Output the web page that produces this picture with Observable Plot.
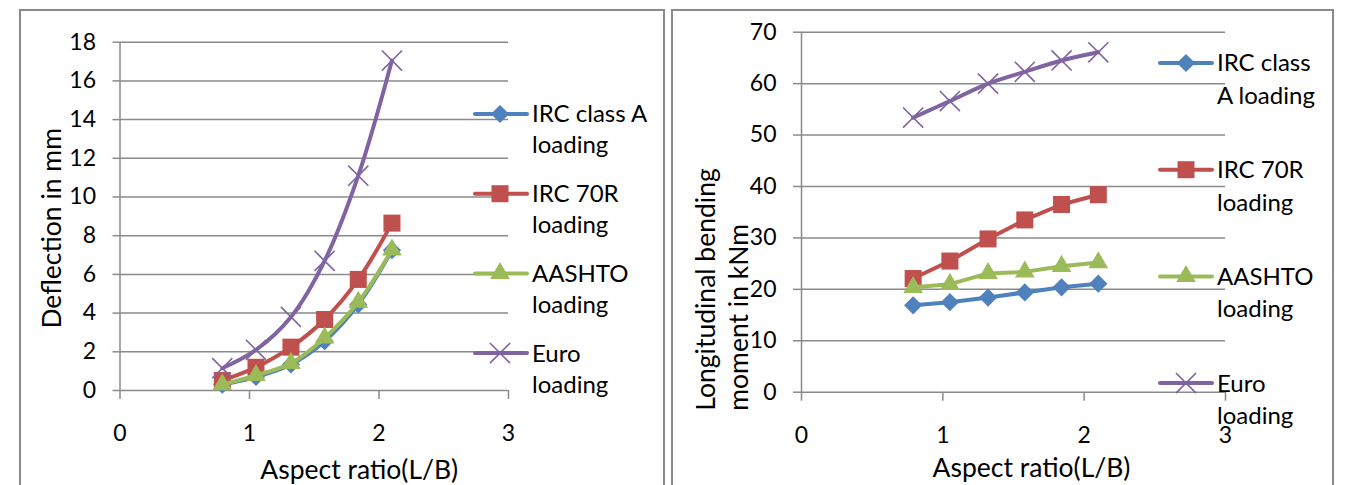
<!DOCTYPE html>
<html><head><meta charset="utf-8">
<script src="https://cdn.jsdelivr.net/npm/d3@7"></script>
<script src="https://cdn.jsdelivr.net/npm/@observablehq/plot@0.6"></script>
<style>
html,body{margin:0;padding:0;background:#fff;}
#root{position:relative;width:1350px;height:485px;overflow:hidden;font-family:Lato,sans-serif;background:#fff;}
.frame{position:absolute;border:2px solid #8a8a8a;border-bottom:none;box-sizing:border-box;}
.panel{position:absolute;top:0;}
.legend{position:absolute;top:0;left:0;}
</style></head><body><div id="root"></div>
<script>
// ---- data ----
const aspectRatio = [0.79, 1.05, 1.32, 1.58, 1.84, 2.1];
const seriesKeys = ["IRC class A", "IRC 70R", "AASHTO", "Euro"];
const seriesColors = ["#4F81BD", "#C0504D", "#9BBB59", "#8064A2"];
// Deflection in mm
const deflIRCA   = [0.30, 0.70, 1.35, 2.55, 4.45, 7.25];
const deflIRC70R = [0.52, 1.20, 2.24, 3.67, 5.74, 8.65];
const deflAASHTO = [0.31, 0.78, 1.41, 2.72, 4.57, 7.27];
const deflEuro   = [1.15, 2.10, 3.80, 6.70, 11.10, 17.05];
// Longitudinal bending moment in kNm
const momIRCA    = [16.9, 17.5, 18.4, 19.4, 20.4, 21.1];
const momIRC70R  = [22.1, 25.5, 29.8, 33.5, 36.5, 38.4];
const momAASHTO  = [20.4, 21.0, 23.1, 23.4, 24.5, 25.2];
const momEuro    = [53.4, 56.6, 60.0, 62.3, 64.5, 66.1];
const xTicks = [0, 1, 2, 3];
const yTicksLeft = [0, 2, 4, 6, 8, 10, 12, 14, 16, 18];
const yTicksRight = [0, 10, 20, 30, 40, 50, 60, 70];
const legendLeft = [["IRC class A", "loading"], ["IRC 70R", "loading"], ["AASHTO", "loading"], ["Euro", "loading"]];
const legendRight = [["IRC class", "A loading"], ["IRC 70R", "loading"], ["AASHTO", "loading"], ["Euro", "loading"]];
const xTitle = "Aspect ratio(L/B)";
const yTitleLeft = "Deflection in mm";
const yTitleRight = "Longitudinal bending\nmoment in kNm";

// ---- styling ----
const GRID = "#8a8a8a";
const symbols = [
  {symbol: "diamond2", r: 8.2, fill: true},
  {symbol: "square", r: 9.6, fill: true},
  {symbol: "triangle", r: 7.3, fill: true},
  {symbol: "times", r: 9.2, fill: false}
];
const root = document.getElementById("root");

function addFrame(left, width) {
  const d = document.createElement("div");
  d.className = "frame";
  Object.assign(d.style, {left: left + "px", top: "9px", width: width + "px", height: "480px"});
  root.appendChild(d);
}
addFrame(19, 646);
addFrame(671, 663);

function rowsOf(vals) { return aspectRatio.map((x, i) => ({x, y: vals[i]})); }

function seriesMarks(seriesVals, curves) {
  const marks = [];
  seriesVals.forEach((vals, i) => {
    const rows = rowsOf(vals);
    marks.push(Plot.line(rows, {x: "x", y: "y", stroke: seriesColors[i], strokeWidth: 4, curve: curves[i], strokeLinejoin: "round"}));
    const s = symbols[i];
    marks.push(Plot.dot(rows, s.fill
      ? {x: "x", y: "y", symbol: s.symbol, r: s.r, fill: seriesColors[i], stroke: "none"}
      : {x: "x", y: "y", symbol: s.symbol, r: s.r, stroke: seriesColors[i], strokeWidth: 1.6, fill: "none"}));
  });
  return marks;
}

function makePanel(o) {
  return Plot.plot({
    width: o.width, height: 485,
    marginLeft: o.ml, marginRight: o.mr, marginTop: o.mt, marginBottom: o.mb,
    style: {fontFamily: "Lato, sans-serif", fontSize: "22.5px", color: "black", background: "transparent", overflow: "visible"},
    x: {domain: [0, 3]},
    y: {domain: o.ydomain},
    marks: [
      Plot.gridY(o.yTicks, {stroke: GRID, strokeOpacity: 1, strokeWidth: 1.5}),
      Plot.ruleX([0], {stroke: GRID, strokeWidth: 1.5}),
      Plot.axisY({ticks: o.yTicks, tickSize: o.tsY, tickPadding: 17, stroke: GRID, strokeWidth: 1.5, label: null, fontSize: 23, fill: "black", tickFormat: d => String(d)}),
      Plot.axisX({ticks: xTicks, tickSize: 9, tickPadding: 25, stroke: GRID, strokeWidth: 1.5, label: null, fontSize: 23, fill: "black", tickFormat: d => String(d)}),
      ...seriesMarks(o.series, o.curves),
      Plot.text([xTitle], {frameAnchor: "bottom", dx: o.xtdx, dy: o.xtdy, fontSize: 26.5, lineAnchor: "middle"}),
      Plot.text([o.yTitle], {frameAnchor: o.ytAnchor, dx: o.ytdx, dy: o.ytdy, rotate: -90, fontSize: 26.5, lineAnchor: "middle", textAnchor: o.ytTextAnchor, lineHeight: 1.25})
    ]
  });
}

const left = makePanel({
  width: 670, ml: 119.5, mr: 162, mt: 41.7, mb: 95, ydomain: [0, 18], yTicks: yTicksLeft, tsY: 7,
  series: [deflIRCA, deflIRC70R, deflAASHTO, deflEuro],
  curves: ["catmull-rom", "catmull-rom", "catmull-rom", "catmull-rom"],
  xtdx: 45, xtdy: 80,
  yTitle: yTitleLeft, ytAnchor: "left", ytdx: -70, ytdy: 12, ytTextAnchor: "middle"
});
left.classList.add("panel");
left.style.left = "0px";
root.appendChild(left);

const right = makePanel({
  width: 680, ml: 131, mr: 125, mt: 31.7, mb: 93.3, ydomain: [0, 70], yTicks: yTicksRight, tsY: 8,
  series: [momIRCA, momIRC70R, momAASHTO, momEuro],
  curves: ["linear", "linear", "linear", "catmull-rom"],
  xtdx: 18, xtdy: 76,
  yTitle: yTitleRight, ytAnchor: "bottom-left", ytdx: -81, ytdy: 18.5, ytTextAnchor: "start"
});
right.classList.add("panel");
right.style.left = "670px";
root.appendChild(right);

// ---- legends ----
const lsvg = d3.select(root).append("svg").attr("class", "legend").attr("width", 1350).attr("height", 485);
const symMap = {diamond2: d3.symbolDiamond2, square: d3.symbolSquare, triangle: d3.symbolTriangle, times: d3.symbolTimes};
function drawLegend(cfg) {
  cfg.labels.forEach((lab, i) => {
    const y = cfg.y0 + i * cfg.step;
    const g = lsvg.append("g");
    g.append("line").attr("x1", cfg.x1).attr("x2", cfg.x2).attr("y1", y).attr("y2", y)
      .attr("stroke", seriesColors[i]).attr("stroke-width", 4).attr("stroke-linecap", "round");
    const s = symbols[i];
    const size = Math.PI * s.r * s.r;
    const p = g.append("path").attr("d", d3.symbol(symMap[s.symbol], size)()).attr("transform", `translate(${cfg.mx},${y})`);
    if (s.fill) p.attr("fill", seriesColors[i]); else p.attr("fill", "none").attr("stroke", seriesColors[i]).attr("stroke-width", 1.6);
    const t = g.append("text").attr("x", cfg.tx).attr("y", y).attr("font-family", "Lato, sans-serif").attr("font-size", 24).attr("fill", "black");
    t.append("tspan").attr("x", cfg.tx).attr("dy", "0.35em").text(lab[0]);
    t.append("tspan").attr("x", cfg.tx).attr("dy", cfg.ls).text(lab[1]);
  });
}
drawLegend({labels: legendLeft, y0: 114, step: 79.7, x1: 475, x2: 527, mx: 500, tx: 532, ls: 31});
drawLegend({labels: legendRight, y0: 63, step: 106.7, x1: 1160, x2: 1212, mx: 1186, tx: 1217, ls: 32.5});
</script></body></html>
